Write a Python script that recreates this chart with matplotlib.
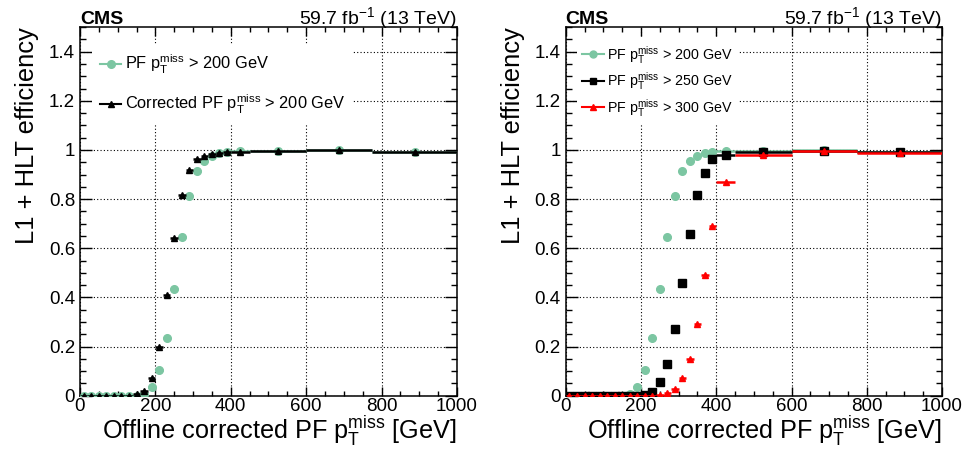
import numpy as np
import matplotlib
matplotlib.use('Agg')
import matplotlib.pyplot as plt
from matplotlib.lines import Line2D
from matplotlib.ticker import MultipleLocator, FuncFormatter

plt.rcParams['font.family'] = ['Liberation Sans', 'DejaVu Sans']
plt.rcParams['mathtext.fontset'] = 'custom'
plt.rcParams['mathtext.rm'] = 'Liberation Sans'
plt.rcParams['mathtext.it'] = 'Liberation Sans:italic'
plt.rcParams['mathtext.bf'] = 'Liberation Sans:bold'

# ============ data ============
bin_edges = [0, 20, 40, 60, 80, 100, 120, 140, 160, 180, 200, 220, 240, 260, 280,
             300, 320, 340, 360, 380, 400, 450, 600, 775, 1000]

pf200 = [0, 0, 0, 0, 0, 0, 0, 0, 0.006, 0.036, 0.105, 0.236, 0.435, 0.647,
         0.814, 0.916, 0.955, 0.976, 0.986, 0.990, 0.994, 0.997, 0.998, 0.990]
corr200 = [0, 0, 0, 0, 0, 0, 0, 0.005, 0.019, 0.071, 0.200, 0.410, 0.640, 0.818,
           0.918, 0.962, 0.977, 0.985, 0.987, 0.990, 0.992, 0.997, 0.998, 0.990]
pf250 = [0, 0, 0, 0, 0, 0, 0, 0, 0, 0, 0.004, 0.016, 0.056, 0.130, 0.270,
         0.460, 0.658, 0.816, 0.908, 0.962, 0.981, 0.992, 0.997, 0.990]
pf300 = [0, 0, 0, 0, 0, 0, 0, 0, 0, 0, 0, 0, 0.003, 0.010, 0.027,
         0.073, 0.148, 0.292, 0.490, 0.690, 0.868, 0.981, 0.995, 0.988]

green = '#7cc6a2'
red = '#ff0000'

lbl = r'p$_{\mathregular{T}}^{\mathregular{miss}}$'

edges = np.array(bin_edges, dtype=float)
centers = 0.5 * (edges[1:] + edges[:-1])
halfw = 0.5 * (edges[1:] - edges[:-1])


def draw_series(ax, vals, color, marker, ms, z):
    ax.errorbar(centers, vals, xerr=halfw, fmt=marker, color=color, ms=ms,
                mec=color, mfc=color, elinewidth=1.8, capsize=0, zorder=z)


def style_axes(ax):
    ax.set_xlim(0, 1000)
    ax.set_ylim(0, 1.5)
    ax.xaxis.set_major_locator(MultipleLocator(200))
    ax.xaxis.set_minor_locator(MultipleLocator(50))
    ax.yaxis.set_major_locator(MultipleLocator(0.2))
    ax.yaxis.set_minor_locator(MultipleLocator(0.05))
    ax.yaxis.set_major_formatter(FuncFormatter(lambda v, p: '%g' % round(v, 2)))
    ax.tick_params(which='both', direction='in', top=True, right=True, labelsize=13.5)
    ax.tick_params(axis='y', which='major', length=8.5, width=1)
    ax.tick_params(axis='y', which='minor', length=4.3, width=1)
    ax.tick_params(axis='x', which='major', length=6.5, width=1, pad=2)
    ax.tick_params(axis='x', which='minor', length=3.3, width=1)
    for s in ax.spines.values():
        s.set_linewidth(1.1)
    ax.grid(True, which='major', color='black', linestyle=(0, (1, 2)), linewidth=0.8)
    ax.set_axisbelow(False)
    for gl in ax.get_xgridlines() + ax.get_ygridlines():
        gl.set_zorder(0.5)
    ax.set_xlabel('Offline corrected PF ' + lbl + ' [GeV]', fontsize=18.2, loc='right',
                  labelpad=-1)
    ax.set_ylabel('L1 + HLT efficiency', fontsize=18.4, loc='top', labelpad=7)
    ax.text(0, 1.008, 'CMS', transform=ax.transAxes, fontsize=14, fontweight='bold',
            ha='left', va='baseline')
    ax.text(1, 1.008, r'59.7 fb$^{\mathregular{-1}}$ (13 TeV)', transform=ax.transAxes,
            fontsize=14, ha='right', va='baseline')


fig = plt.figure(figsize=(9.68, 4.59), dpi=100)
ax1 = fig.add_axes([0.0826, 0.138, 0.3895, 0.803])
ax2 = fig.add_axes([0.5844, 0.138, 0.3888, 0.803])

# left panel
draw_series(ax1, pf200, green, 'o', 5.5, 3)
draw_series(ax1, corr200, 'black', '^', 5.0, 4)
style_axes(ax1)
h1 = [Line2D([], [], color=green, marker='o', ms=5.5, lw=1.5),
      Line2D([], [], color='black', marker='^', ms=5.0, lw=1.5)]
leg1 = ax1.legend(h1, ['PF ' + lbl + ' > 200 GeV', 'Corrected PF ' + lbl + ' > 200 GeV'],
                  loc='upper left', bbox_to_anchor=(0.01, 0.975), fontsize=11.8,
                  frameon=True, fancybox=False, edgecolor='none', framealpha=1,
                  handlelength=1.3, handletextpad=0.2, labelspacing=1.05,
                  borderpad=0.5)
leg1.set_zorder(10)

# right panel
draw_series(ax2, pf200, green, 'o', 5.5, 3)
draw_series(ax2, pf250, 'black', 's', 5.5, 4)
draw_series(ax2, pf300, red, '^', 5.0, 5)
style_axes(ax2)
h2 = [Line2D([], [], color=green, marker='o', ms=5, lw=1.5),
      Line2D([], [], color='black', marker='s', ms=5, lw=1.5),
      Line2D([], [], color=red, marker='^', ms=5, lw=1.5)]
leg2 = ax2.legend(h2, ['PF ' + lbl + ' > 200 GeV', 'PF ' + lbl + ' > 250 GeV',
                       'PF ' + lbl + ' > 300 GeV'],
                  loc='upper left', bbox_to_anchor=(0.01, 0.99), fontsize=10.3,
                  frameon=True, fancybox=False, edgecolor='none', framealpha=1,
                  handlelength=1.5, handletextpad=0.25, labelspacing=0.33,
                  borderpad=0.4)
leg2.set_zorder(10)

fig.savefig('out.png', dpi=100)
